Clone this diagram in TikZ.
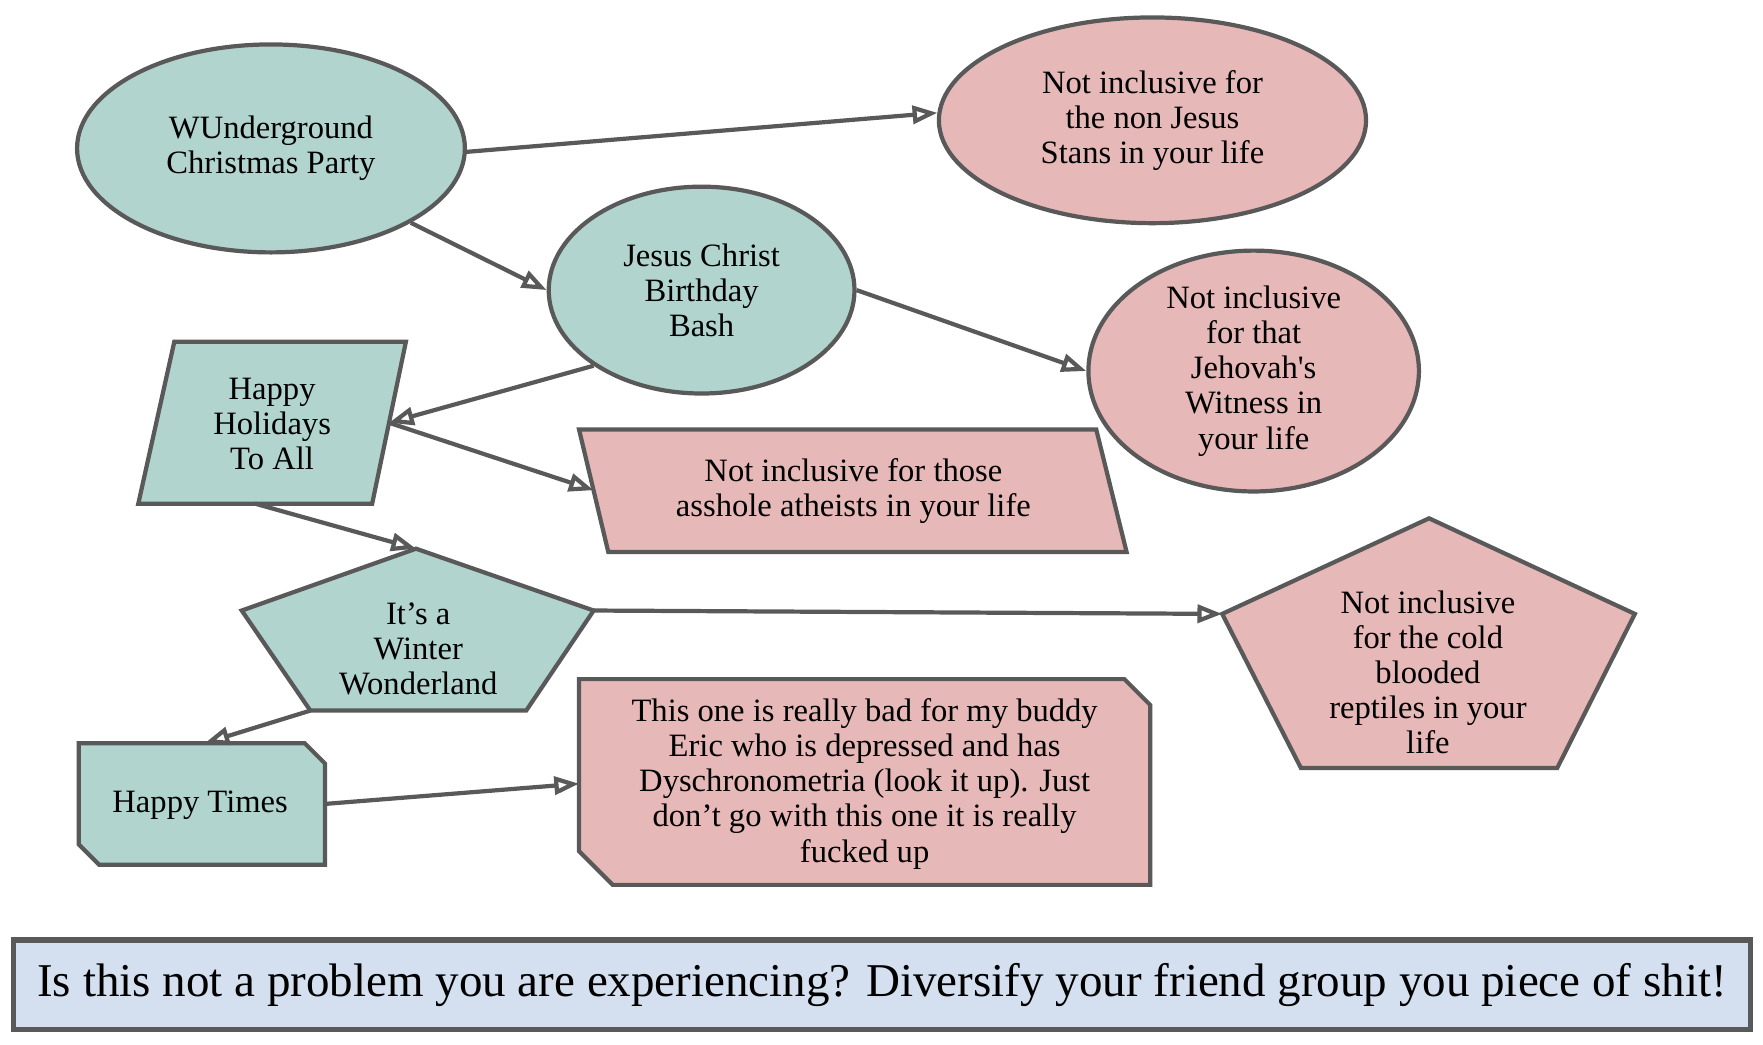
\documentclass[tikz,border=0pt]{standalone}
\usepackage{fontspec}
\setmainfont{Liberation Serif}[Ligatures=TeXOff]
\usepackage{tikz}
\usetikzlibrary{shapes.geometric}
\usetikzlibrary{arrows.meta}
\definecolor{tealfill}{RGB}{177,212,206}
\definecolor{pinkfill}{RGB}{230,184,183}
\definecolor{bluefill}{RGB}{212,224,239}
\definecolor{edgegray}{RGB}{89,89,89}
\tikzstyle{tealshape}=[draw=edgegray, line width=0.075cm, fill=tealfill]
\tikzstyle{pinkshape}=[draw=edgegray, line width=0.075cm, fill=pinkfill]
\tikzstyle{oval}=[ellipse, inner sep=0pt, align=center]
\tikzstyle{txt}=[inner sep=0pt, align=center]
\tikzstyle{link}=[draw=edgegray, line width=0.075cm, -{Triangle[open, length=0.44cm, width=0.32cm]}]

\begin{document}
\begin{tikzpicture}[x=0.02cm, y=-0.02cm, font=\fontsize{16.5}{17.8}\selectfont]
    \useasboundingbox (0,0) rectangle (1568,929);
    % ovals
    \node[oval, tealshape, minimum width=6.9cm, minimum height=3.7cm] (e1) at (241,132)
    {WUnderground\\Christmas Party};
    \node[oval, pinkshape, minimum width=7.6cm, minimum height=3.66cm] (e2) at (1025,107)
    {Not inclusive for\\the non Jesus\\Stans in your life};
    \node[oval, tealshape, minimum width=5.44cm, minimum height=3.68cm] (e3) at (624,258)
    {Jesus Christ\\Birthday\\Bash};
    \node[oval, pinkshape, minimum width=5.88cm, minimum height=4.28cm] (e4) at (1115,330)
    {Not inclusive\\for that\\Jehovah's\\Witness in\\your life};
    % parallelograms
    \path[tealshape] (155,304) -- (361,304) -- (331,448) -- (123,448) -- cycle;
    \coordinate (p1-e) at (346,376);
    \coordinate (p1-s) at (227,448);
    \node[txt] (p1) at (242,377) {Happy\\Holidays\\To All};
    \path[pinkshape] (515,382) -- (975,382) -- (1002,491) -- (541,491) -- cycle;
    \coordinate (p2-w) at (528,436);
    \node[txt] (p2) at (759,437) {Not inclusive for those\\asshole atheists in your life};
    % pentagons
    \path[tealshape] (370,488) -- (528,543) -- (468,632) -- (276,632) -- (215,543) -- cycle;
    \coordinate (g1-n) at (370,488);
    \coordinate (g1-e) at (528,543);
    \coordinate (g1-sw) at (276,632);
    \node[txt] (g1) at (372,577) {It’s a\\Winter\\Wonderland};
    \path[pinkshape] (1271,461) -- (1454,546) -- (1385,683) -- (1157,683) -- (1087,546) -- cycle;
    \coordinate (g2-w) at (1087,546);
    \node[txt] (g2) at (1270,598) {Not inclusive\\for the cold\\blooded\\reptiles in your\\life};
    % cut boxes
    \path[tealshape] (70,661) -- (271,661) -- (289,679) -- (289,769) -- (88,769) -- (70,751) -- cycle;
    \coordinate (b1-n) at (182,661);
    \coordinate (b1-e) at (289,715);
    \node[txt] (b1) at (178,716) {Happy Times};
    \path[pinkshape] (515,604) -- (1000,604) -- (1023,627) -- (1023,787) -- (545,787) -- (515,757) -- cycle;
    \coordinate (b2-w) at (515,697);
    \node[txt] (b2) at (769,697) {This one is really bad for my buddy\\Eric who is depressed and has\\Dyschronometria (look it up). Just\\don’t go with this one it is really\\fucked up};
    % bottom line
    \node[draw=edgegray, line width=0.09cm, fill=bluefill, minimum width=30.9cm, minimum height=1.6cm,
    font=\fontsize{23.8}{26}\selectfont] (n1) at (784.5,876)
    {Is this not a problem you are experiencing? Diversify your friend group you piece of shit!};
    % links
    \draw[link] (e1.-1) -- (e2.178);
    \draw[link] (e1.-28) -- (e3.west);
    \draw[link] (e3.east) -- (e4.west);
    \draw[link] (e3.215) -- (p1-e);
    \draw[link] (p1-e) -- (p2-w);
    \draw[link] (p1-s) -- (g1-n);
    \draw[link] (g1-e) -- (g2-w);
    \draw[link] (g1-sw) -- (b1-n);
    \draw[link] (b1-e) -- (b2-w);
\end{tikzpicture}
\end{document}
